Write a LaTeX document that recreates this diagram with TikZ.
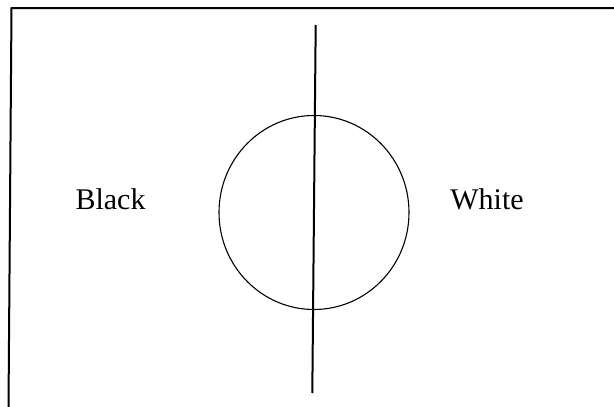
\documentclass[tikz,border=0pt]{standalone}
\usepackage{fontspec}
\setmainfont{Liberation Serif}
\begin{document}
\begin{tikzpicture}[x=1pt,y=-1pt,
  frameline/.style={line width=2pt},
  axisline/.style={line width=2pt},
  ringline/.style={line width=1.1pt},
  label/.style={font=\fontsize{30}{36}\selectfont, inner sep=0pt, anchor=base}]
\useasboundingbox (0,0) rectangle (614,407);
\coordinate (fbl) at (8.5,407);
\coordinate (ftl) at (11.5,8);
\coordinate (ftr) at (614,8);
\draw[frameline] (fbl) -- (ftl) -- (ftr);
\draw[ringline] (314,212.5) ellipse [x radius=95, y radius=97];
\coordinate (ltop) at (315.7,25);
\coordinate (lbot) at (312.3,393);
\draw[axisline] (ltop) -- (lbot);
\node[label] (black) at (110.5,209) {Black};
\node[label] (white) at (487,209.5) {White};
\end{tikzpicture}
\end{document}
